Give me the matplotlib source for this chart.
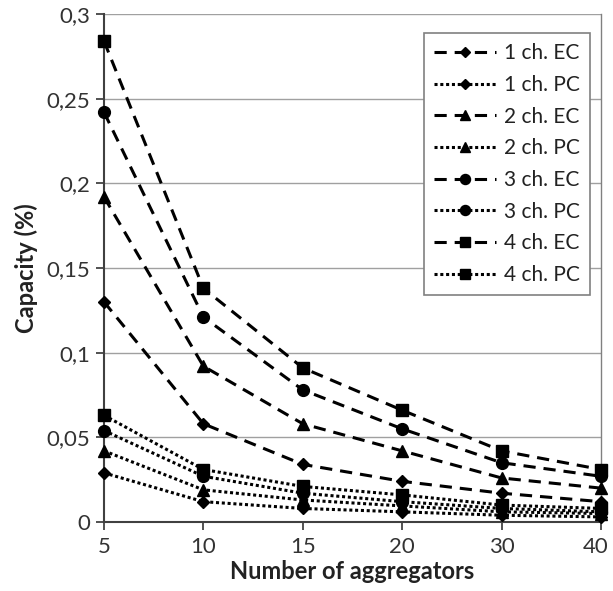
#!/usr/bin/env python3

import matplotlib

matplotlib.use("Agg")
import matplotlib.pyplot as plt
import matplotlib.transforms as mtransforms
import numpy as np

plt.rcParams["font.family"] = ["Lato", "DejaVu Sans"]

# categories (evenly spaced on the x axis)
aggregators = ["5", "10", "15", "20", "30", "40"]

ec_1ch = [0.130, 0.058, 0.034, 0.024, 0.017, 0.012]
pc_1ch = [0.029, 0.012, 0.008, 0.006, 0.004, 0.003]
ec_2ch = [0.192, 0.092, 0.058, 0.042, 0.026, 0.020]
pc_2ch = [0.042, 0.019, 0.013, 0.0095, 0.006, 0.005]
ec_3ch = [0.242, 0.121, 0.078, 0.055, 0.035, 0.027]
pc_3ch = [0.054, 0.027, 0.017, 0.012, 0.008, 0.006]
ec_4ch = [0.284, 0.138, 0.091, 0.066, 0.042, 0.031]
pc_4ch = [0.063, 0.031, 0.021, 0.016, 0.010, 0.008]

y_ticks = [0, 0.05, 0.1, 0.15, 0.2, 0.25, 0.3]
y_tick_labels = ["0", "0,05", "0,1", "0,15", "0,2", "0,25", "0,3"]

series = [
    ("1 ch. EC", ec_1ch, "D", 6.5, "ec"),
    ("1 ch. PC", pc_1ch, "D", 6.5, "pc"),
    ("2 ch. EC", ec_2ch, "^", 8, "ec"),
    ("2 ch. PC", pc_2ch, "^", 8, "pc"),
    ("3 ch. EC", ec_3ch, "o", 8.5, "ec"),
    ("3 ch. PC", pc_3ch, "o", 8.5, "pc"),
    ("4 ch. EC", ec_4ch, "s", 8.5, "ec"),
    ("4 ch. PC", pc_4ch, "s", 8.5, "pc"),
]

fig = plt.figure(figsize=(6.13, 5.91), dpi=100)
ax = fig.add_axes([104 / 613, 69 / 591, 497 / 613, 508 / 591])

x = np.arange(len(aggregators))
for label, vals, mk, ms, kind in series:
    if kind == "ec":
        ls = (0, (4, 2.6))
    else:
        ls = (0, (1, 0.9))
    ax.plot(x, vals, color="black", linestyle=ls, linewidth=2.2,
            marker=mk, markersize=ms, markerfacecolor="black",
            markeredgecolor="black", label=label, clip_on=False, zorder=3)

ax.set_xlim(0, len(aggregators) - 1)
ax.set_ylim(0, 0.3)
ax.set_xticks(x)
ax.set_xticklabels(aggregators)
ax.set_yticks(y_ticks)
ax.set_yticklabels(y_tick_labels)

ax.yaxis.grid(True, color="#a0a0a0", linewidth=1.0)
ax.set_axisbelow(True)

for side in ["left", "bottom"]:
    ax.spines[side].set_color("#404040")
    ax.spines[side].set_linewidth(1.5)
ax.spines["top"].set_visible(False)
ax.spines["right"].set_color("#808080")
ax.spines["right"].set_linewidth(1.0)

ax.tick_params(axis="both", labelsize=16, colors="#333333", length=6,
               width=1.2, direction="out")
ax.tick_params(axis="y", pad=4)
ax.tick_params(axis="x", pad=5)

# last x label sits at the figure edge, nudge it in a bit
last = ax.get_xticklabels()[-1]
last.set_transform(last.get_transform()
                   + mtransforms.ScaledTranslation(-4 / 72, 0, fig.dpi_scale_trans))

ax.set_xlabel("Number of aggregators", fontsize=17, fontweight="bold",
              color="#222222", labelpad=2)
ax.set_ylabel("Capacity (%)", fontsize=17, fontweight="bold",
              color="#222222", labelpad=6)

leg = ax.legend(loc="upper right", bbox_to_anchor=(0.978, 0.963),
                borderaxespad=0, fontsize=15, handlelength=3.0,
                handletextpad=0.35, labelspacing=0.56, borderpad=0.5,
                fancybox=False, framealpha=1, edgecolor="#808080",
                markerscale=0.85)
leg.get_frame().set_linewidth(1.2)
for t in leg.get_texts():
    t.set_color("#222222")

fig.savefig("out.png", dpi=100)
